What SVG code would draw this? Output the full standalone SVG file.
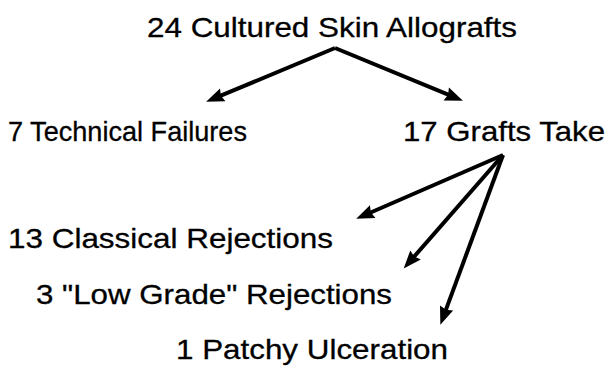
<svg xmlns="http://www.w3.org/2000/svg" width="608" height="367" viewBox="0 0 608 367">
<style>
text{font-family:"Liberation Sans",Arial,Helvetica,sans-serif;font-size:28.5px;fill:#000;stroke:#000;stroke-width:0.3}
.c{fill:none;stroke:#000;stroke-width:4}
</style>
<defs>
<marker id="ah" markerUnits="userSpaceOnUse" markerWidth="18" markerHeight="14" refX="6" refY="7" orient="auto" overflow="visible">
<path d="M0,0 L18,7 L0,14 L2,7 z" fill="#000"/>
</marker>
</defs>
<rect width="608" height="367" fill="#fff"/>
<g id="n-total"><text x="147" y="37" textLength="370" lengthAdjust="spacingAndGlyphs">24 Cultured Skin Allografts</text></g>
<g id="n-failures"><text x="8" y="141" textLength="239" lengthAdjust="spacingAndGlyphs">7 Technical Failures</text></g>
<g id="n-take"><text x="403" y="141" textLength="202" lengthAdjust="spacingAndGlyphs">17 Grafts Take</text></g>
<g id="n-classical"><text x="8" y="248" textLength="325" lengthAdjust="spacingAndGlyphs">13 Classical Rejections</text></g>
<g id="n-lowgrade"><text x="36" y="304" textLength="356" lengthAdjust="spacingAndGlyphs">3 "Low Grade" Rejections</text></g>
<g id="n-patchy"><text x="176" y="359" textLength="272" lengthAdjust="spacingAndGlyphs">1 Patchy Ulceration</text></g>
<g id="connectors">
<path class="c" d="M335,48 L217.2,97.2" marker-end="url(#ah)"/>
<path class="c" d="M335,48 L451.8,96.2" marker-end="url(#ah)"/>
<path class="c" d="M503,155 L367.2,214" marker-end="url(#ah)"/>
<path class="c" d="M503,155 L411.6,259.5" marker-end="url(#ah)"/>
<path class="c" d="M503,155 L444.5,313.6" marker-end="url(#ah)"/>
</g>
</svg>
